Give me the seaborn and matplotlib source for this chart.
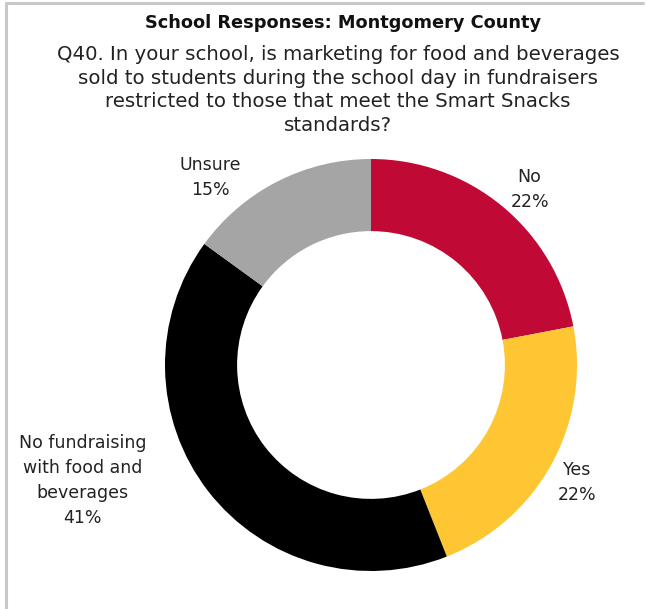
import matplotlib
matplotlib.use("Agg")
import matplotlib.pyplot as plt
import seaborn as sns

# data (clockwise from 12 o'clock)
categories = ["No", "Yes", "No fundraising\nwith food and\nbeverages", "Unsure"]
percents = [22, 22, 41, 15]
colors = ["#C00A35", "#FDC632", "#000000", "#A5A5A5"]

# where each label sits, in data units of the donut (radius 1)
label_pos = [(0.77, 0.85), (1.0, -0.57), (-1.40, -0.56), (-0.78, 0.91)]

title = "School Responses: Montgomery County"
question = ("Q40. In your school, is marketing for food and beverages\n"
            "sold to students during the school day in fundraisers\n"
            "restricted to those that meet the Smart Snacks\n"
            "standards?")

sns.set_theme(style="white")
plt.rcParams['font.family'] = ['DejaVu Sans']

fig = plt.figure(figsize=(6.47, 6.09), dpi=100)
fig.patch.set_facecolor("white")

# donut
ax = fig.add_axes([165 / 647, 38 / 609, 412 / 647, 412 / 609])
wedges, texts = ax.pie(
    percents,
    labels=categories,
    colors=colors,
    startangle=90,
    counterclock=False,
    radius=1,
    wedgeprops=dict(width=0.35, edgecolor="none"),
    textprops=dict(fontsize=12.5, color="#222222", ha="center", va="center",
                   linespacing=1.5),
)
for t, pct, pos in zip(texts, percents, label_pos):
    t.set_text(t.get_text() + "\n" + f"{pct}%")
    t.set_position(pos)
    t.set_horizontalalignment("center")
    t.set_verticalalignment("center")
ax.set_xlim(-1, 1)
ax.set_ylim(-1, 1)
ax.set_aspect("equal")
ax.axis("off")

fig.text(343 / 647, 1 - 23 / 609, title, ha="center", va="center",
         fontsize=12.8, fontweight="bold", color="#111111")
fig.text(338 / 647, 1 - 90 / 609, question, ha="center", va="center",
         fontsize=14.2, color="#222222", linespacing=1.33)

# grey frame on the top and left edges
fig.add_artist(plt.Line2D([6 / 647, 643 / 647], [1 - 3 / 609, 1 - 3 / 609],
                          color="#C8C8C8", lw=2.2, transform=fig.transFigure))
fig.add_artist(plt.Line2D([6 / 647, 6 / 647], [0, 1 - 3 / 609],
                          color="#C8C8C8", lw=2.2, transform=fig.transFigure))

fig.savefig("out.png", dpi=100)
